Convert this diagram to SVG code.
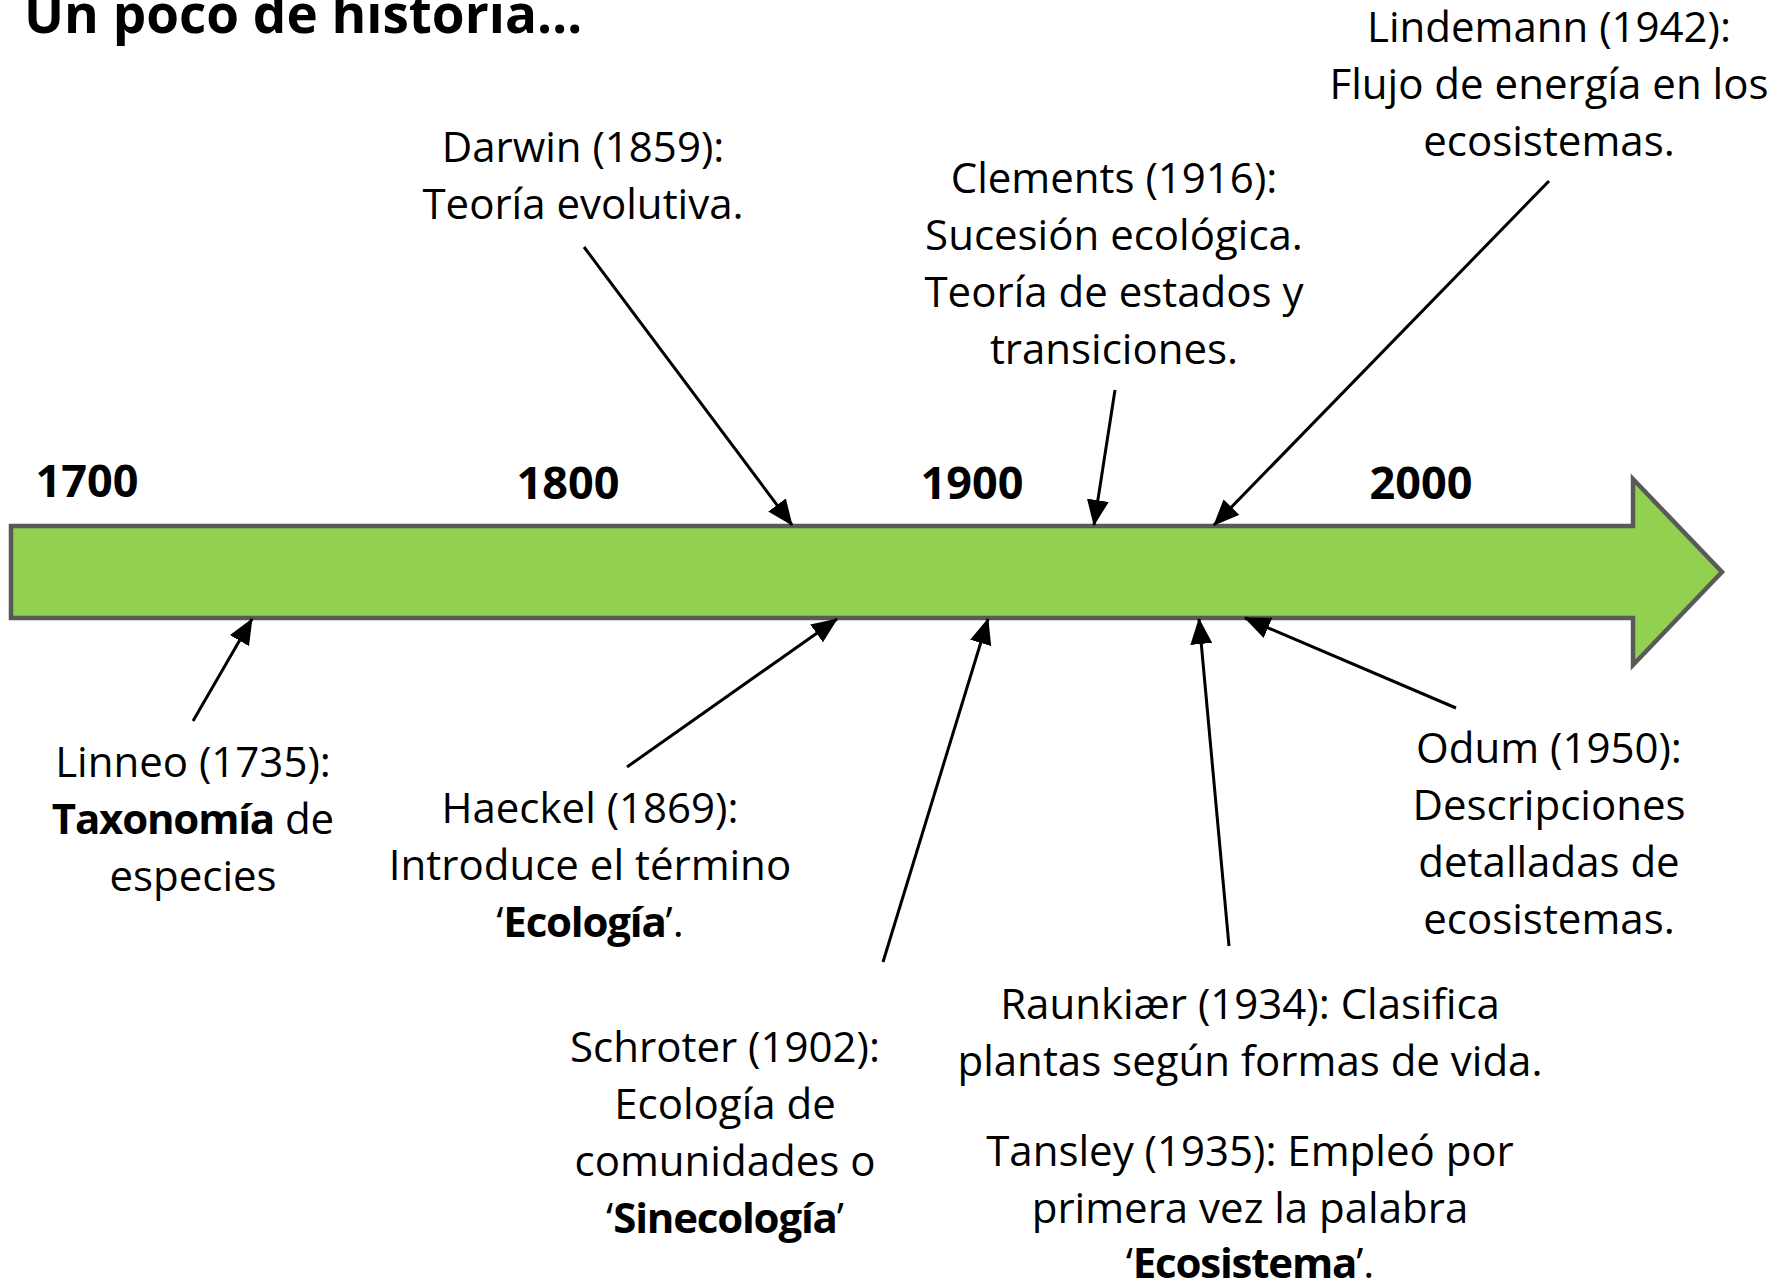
<svg xmlns="http://www.w3.org/2000/svg" width="1777" height="1284" viewBox="0 0 1777 1284">
  <style>
    text { font-family: 'Open Sans', 'Noto Sans', sans-serif; fill: #000; }
    .lbl { font-size: 42px; text-anchor: middle; }
    .yr { font-size: 45px; font-weight: 700; text-anchor: middle; }
    .title { font-size: 53px; font-weight: 700; }
    .b { font-weight: 700; letter-spacing: -1.2px; }
    .conn line { stroke: #000; stroke-width: 3; marker-end: url(#head); }
  </style>
  <defs>
    <marker id="head" markerUnits="userSpaceOnUse" markerWidth="26" markerHeight="22" refX="25" refY="11" orient="auto">
      <path d="M0,0 L26,11 L0,22 Z" fill="#000"/>
    </marker>
  </defs>

  <rect width="1777" height="1284" fill="#fff"/>

  <text class="title" x="24" y="33">Un poco de historia…</text>

  <!-- timeline arrow -->
  <g id="timeline">
    <polygon points="11,526 1633,526 1633,479 1722,572 1633,665 1633,618 11,618" fill="#92D050" stroke="#595959" stroke-width="4.5"/>
    <text class="yr" x="87" y="497">1700</text>
    <text class="yr" x="568" y="499">1800</text>
    <text class="yr" x="972" y="499">1900</text>
    <text class="yr" x="1421" y="499">2000</text>
  </g>

  <!-- connectors -->
  <g id="connectors" class="conn">
    <line x1="584" y1="247" x2="792" y2="525"/>
    <line x1="1115" y1="390" x2="1094" y2="525"/>
    <line x1="1549" y1="181" x2="1214" y2="525"/>
    <line x1="193" y1="721" x2="252" y2="619"/>
    <line x1="627" y1="767" x2="837" y2="619"/>
    <line x1="883" y1="962" x2="988" y2="619"/>
    <line x1="1229" y1="946" x2="1199" y2="619"/>
    <line x1="1456" y1="708" x2="1245" y2="618"/>
  </g>

  <g id="darwin">
    <text class="lbl" x="583" y="162">Darwin (1859):</text>
    <text class="lbl" x="583" y="219">Teoría evolutiva.</text>
  </g>

  <g id="clements">
    <text class="lbl" x="1114" y="193">Clements (1916):</text>
    <text class="lbl" x="1114" y="250">Sucesión ecológica.</text>
    <text class="lbl" x="1114" y="307">Teoría de estados y</text>
    <text class="lbl" x="1114" y="364">transiciones.</text>
  </g>

  <g id="lindemann">
    <text class="lbl" x="1549" y="42">Lindemann (1942):</text>
    <text class="lbl" x="1549" y="99">Flujo de energía en los</text>
    <text class="lbl" x="1549" y="156">ecosistemas.</text>
  </g>

  <g id="linneo">
    <text class="lbl" x="193" y="777">Linneo (1735):</text>
    <text class="lbl" x="193" y="834"><tspan class="b">Taxonomía</tspan> de</text>
    <text class="lbl" x="193" y="891">especies</text>
  </g>

  <g id="haeckel">
    <text class="lbl" x="590" y="823">Haeckel (1869):</text>
    <text class="lbl" x="590" y="880">Introduce el término</text>
    <text class="lbl" x="590" y="937">‘<tspan class="b">Ecología</tspan>’.</text>
  </g>

  <g id="schroter">
    <text class="lbl" x="725" y="1062">Schroter (1902):</text>
    <text class="lbl" x="725" y="1119">Ecología de</text>
    <text class="lbl" x="725" y="1176">comunidades o</text>
    <text class="lbl" x="725" y="1233">‘<tspan class="b">Sinecología</tspan>’</text>
  </g>

  <g id="raunkiaer">
    <text class="lbl" x="1250" y="1019">Raunkiær (1934): Clasifica</text>
    <text class="lbl" x="1250" y="1076">plantas según formas de vida.</text>
  </g>

  <g id="tansley">
    <text class="lbl" x="1250" y="1166">Tansley (1935): Empleó por</text>
    <text class="lbl" x="1250" y="1223">primera vez la palabra</text>
    <text class="lbl" x="1250" y="1278">‘<tspan class="b">Ecosistema</tspan>’.</text>
  </g>

  <g id="odum">
    <text class="lbl" x="1549" y="763">Odum (1950):</text>
    <text class="lbl" x="1549" y="820">Descripciones</text>
    <text class="lbl" x="1549" y="877">detalladas de</text>
    <text class="lbl" x="1549" y="934">ecosistemas.</text>
  </g>
</svg>
